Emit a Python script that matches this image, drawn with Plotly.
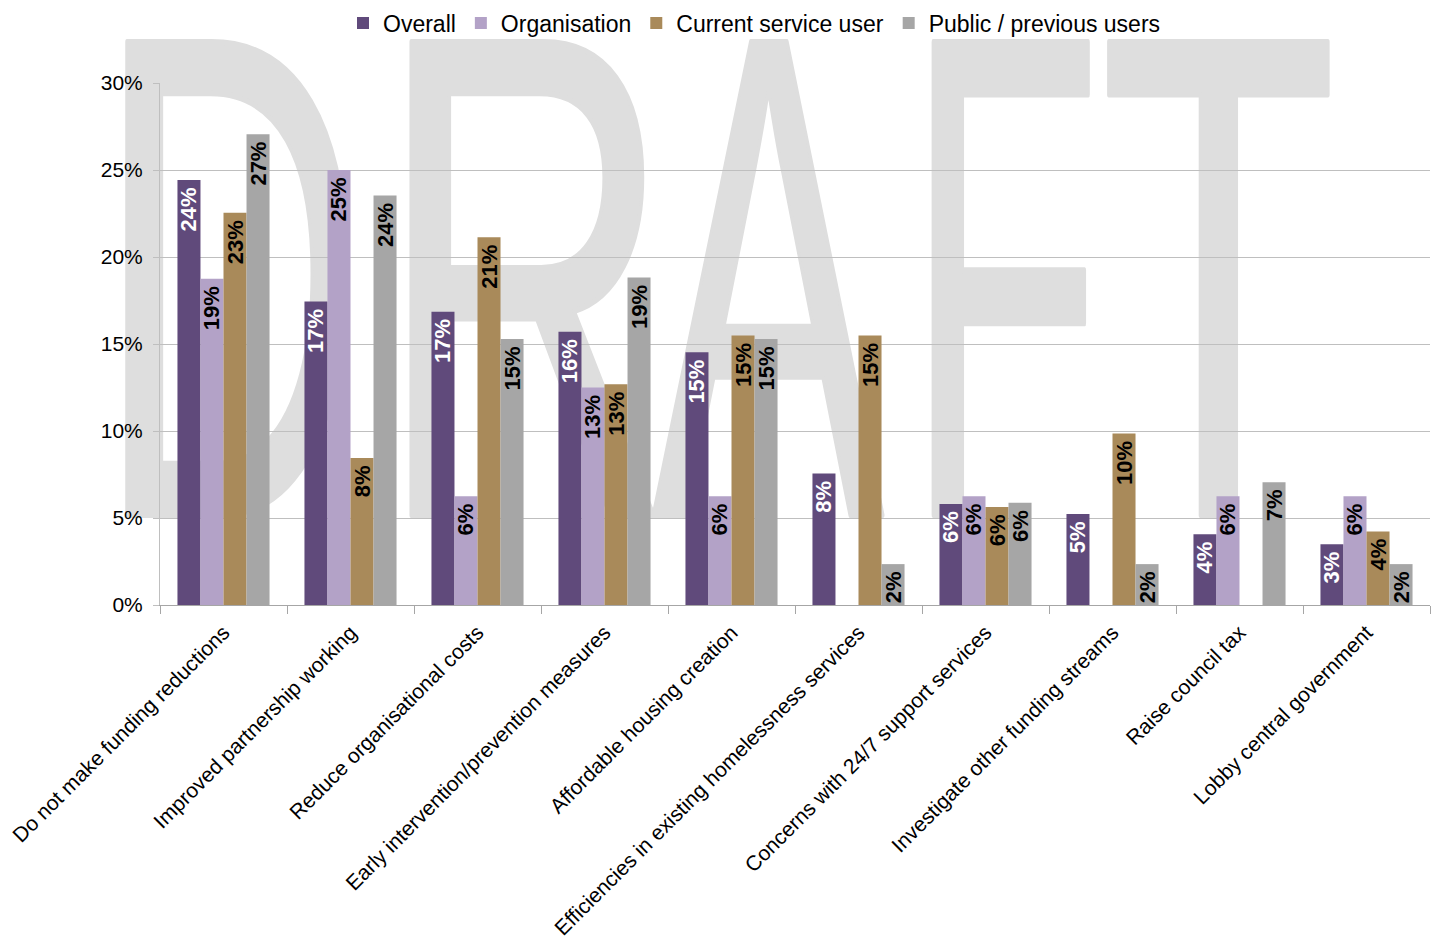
import base64
import plotly.graph_objects as go

categories = [
    "Do not make funding reductions",
    "Improved partnership working",
    "Reduce organisational costs",
    "Early intervention/prevention measures",
    "Affordable housing creation",
    "Efficiencies in existing homelessness services",
    "Concerns with 24/7 support services",
    "Investigate other funding streams",
    "Raise council tax",
    "Lobby central government",
]
overall = [24.42, 17.44, 16.86, 15.70, 14.53, 7.56, 5.81, 5.23, 4.07, 3.49]
organisation = [18.75, 25.0, 6.25, 12.5, 6.25, None, 6.25, None, 6.25, 6.25]
current_user = [22.54, 8.45, 21.13, 12.68, 15.49, 15.49, 5.63, 9.86, None, 4.23]
public_prev = [27.06, 23.53, 15.29, 18.82, 15.29, 2.35, 5.88, 2.35, 7.06, 2.35]

series_names = ["Overall", "Organisation", "Current service user", "Public / previous users"]
series_values = [overall, organisation, current_user, public_prev]
colors = ["#604A7B", "#B3A2C7", "#A98A5A", "#A6A6A6"]
text_colors = ["#FFFFFF", "#000000", "#000000", "#000000"]
y_ticks = [0, 5, 10, 15, 20, 25, 30]
y_tick_text = [f"{v}%" for v in y_ticks]

W, H = 1438, 946
ML, MR, MT, MB = 160, 8, 83, 341
PW, PH = W - ML - MR, H - MT - MB

FONT = "Liberation Sans, Arial, sans-serif"

fig = go.Figure()
for name, vals, col, tcol in zip(series_names, series_values, colors, text_colors):
    fig.add_trace(go.Bar(
        name=name, x=categories, y=vals,
        marker=dict(color=col, line=dict(width=0)),
        texttemplate="%{y:.0f}%\u2009",
        textposition="inside",
        insidetextanchor="end",
        textangle=-90,
        insidetextfont=dict(family=FONT, size=22, color=tcol, weight="bold"),
        hoverinfo="skip",
    ))

# DRAFT watermark (background decoration)
letters = [("D", 125, 345), ("R", 410, 668), ("A", 652, 884), ("F", 933, 1085), ("T", 1109, 1328)]
metrics = {"D": (0.077, 0.669), "R": (0.079, 0.711), "A": (-0.0015, 0.668),
           "F": (0.082, 0.560), "T": (0.023, 0.588)}
cap_top, baseline = 42, 515
fs = (baseline - cap_top) / 0.688
parts = []
for ch, l, r in letters:
    xmin, xmax = metrics[ch]
    sx = (r - l) / ((xmax - xmin) * fs)
    x0 = l - xmin * fs * sx
    parts.append(
        f'<text transform="translate({x0:.2f},{baseline}) scale({sx:.4f},1)" '
        f'font-family="Liberation Sans, Arial, sans-serif" font-size="{fs:.1f}" '
        f'fill="#DEDEDE" stroke="#DEDEDE" stroke-width="6" stroke-linejoin="round">{ch}</text>'
    )
svg = (f'<svg xmlns="http://www.w3.org/2000/svg" width="{W}" height="{H}" '
       f'viewBox="0 0 {W} {H}">' + "".join(parts) + "</svg>")
src = "data:image/svg+xml;base64," + base64.b64encode(svg.encode()).decode()

fig.add_layout_image(dict(
    source=src, xref="paper", yref="paper",
    x=-ML / PW, y=1 + MT / PH, sizex=W / PW, sizey=H / PH,
    xanchor="left", yanchor="top", sizing="stretch", layer="below",
))

fig.update_layout(
    width=W, height=H,
    margin=dict(l=ML, r=MR, t=MT, b=MB, autoexpand=False),
    paper_bgcolor="#FFFFFF",
    plot_bgcolor="rgba(0,0,0,0)",
    barmode="group",
    bargap=0.275,
    bargroupgap=0,
    font=dict(family=FONT, size=21, color="#000000"),
    uniformtext=dict(minsize=22, mode="show"),
    legend=dict(
        orientation="h", x=(343 - ML) / PW, xanchor="left",
        y=1 + (MT - 23) / PH, yanchor="middle",
        font=dict(family=FONT, size=23, color="#000000"),
        itemwidth=30, bgcolor="rgba(0,0,0,0)",
    ),
    showlegend=True,
)
fig.update_xaxes(
    type="category", tickangle=-45,
    showline=True, linecolor="#A6A6A6", linewidth=1,
    ticks="outside", ticklen=8, tickcolor="#A6A6A6", tickson="boundaries",
    showgrid=False, ticklabelstandoff=6,
    tickfont=dict(family=FONT, size=21, color="#000000"),
)
fig.update_yaxes(
    range=[0, 30], tickmode="array", tickvals=y_ticks, ticktext=y_tick_text,
    showgrid=True, gridcolor="#BFBFBF", gridwidth=1,
    showline=True, linecolor="#BFBFBF", linewidth=1,
    ticks="outside", ticklen=6, tickcolor="#BFBFBF",
    ticklabelstandoff=6, zeroline=False,
    tickfont=dict(family=FONT, size=21, color="#000000"),
)

fig.write_html("out.html", config={"displayModeBar": False},
               post_script="document.body.style.margin='0';")
